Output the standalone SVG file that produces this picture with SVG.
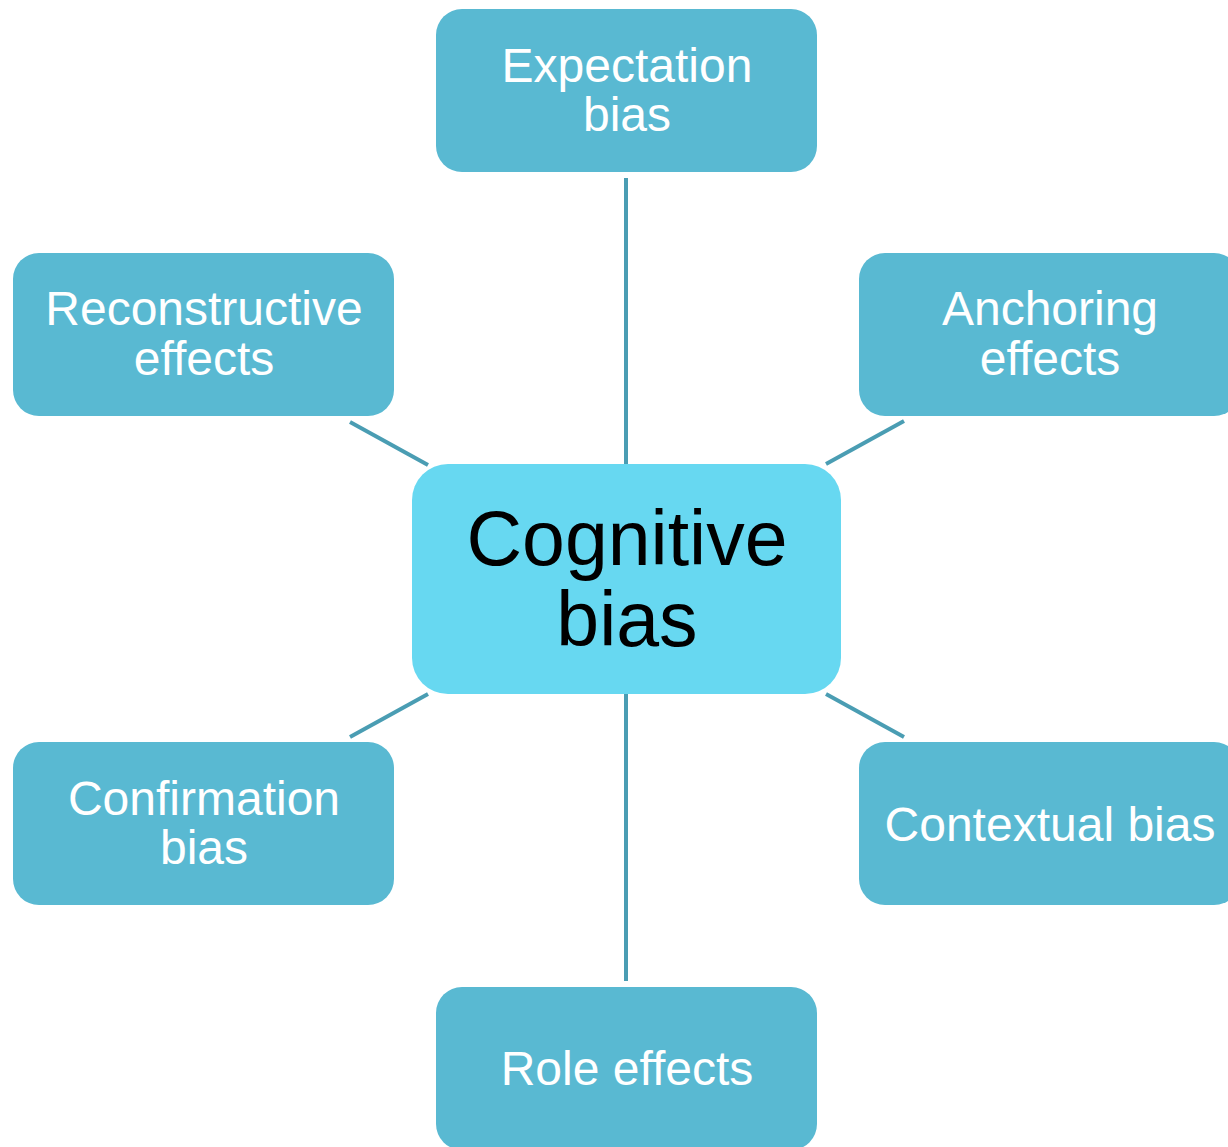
<svg xmlns="http://www.w3.org/2000/svg" width="1228" height="1147" viewBox="0 0 1228 1147">
<style>
.box{fill:#59b9d2}
.core{fill:#67d8f1}
.lbl{font-family:"Liberation Sans",Arial,sans-serif;font-size:48px;fill:#ffffff;text-anchor:middle}
.big{font-family:"Liberation Sans",Arial,sans-serif;font-size:77px;fill:#000000;text-anchor:middle}
.conn line{stroke:#4a9db3;stroke-width:4}
</style>
<rect width="1228" height="1147" fill="#ffffff"/>
<g id="connectors" class="conn">
<line x1="626" y1="178" x2="626" y2="465"/>
<line x1="626" y1="694" x2="626" y2="981"/>
<line x1="350" y1="422" x2="428" y2="465"/>
<line x1="826" y1="464" x2="904" y2="421"/>
<line x1="428" y1="694" x2="350" y2="737"/>
<line x1="826" y1="694" x2="904" y2="737"/>
</g>
<g id="expectation">
<rect class="box" x="436" y="9" width="381" height="163" rx="26"/>
<text class="lbl" x="627" y="82">Expectation</text>
<text class="lbl" x="627" y="131">bias</text>
</g>
<g id="reconstructive">
<rect class="box" x="13" y="253" width="381" height="163" rx="26"/>
<text class="lbl" x="204" y="325">Reconstructive</text>
<text class="lbl" x="204" y="375">effects</text>
</g>
<g id="anchoring">
<rect class="box" x="859" y="253" width="381" height="163" rx="26"/>
<text class="lbl" x="1050" y="325">Anchoring</text>
<text class="lbl" x="1050" y="375">effects</text>
</g>
<g id="cognitive">
<rect class="core" x="412" y="464" width="429" height="230" rx="36"/>
<text class="big" x="627" y="565">Cognitive</text>
<text class="big" x="627" y="646">bias</text>
</g>
<g id="confirmation">
<rect class="box" x="13" y="742" width="381" height="163" rx="26"/>
<text class="lbl" x="204" y="815">Confirmation</text>
<text class="lbl" x="204" y="864">bias</text>
</g>
<g id="contextual">
<rect class="box" x="859" y="742" width="381" height="163" rx="26"/>
<text class="lbl" x="1050" y="841">Contextual bias</text>
</g>
<g id="role">
<rect class="box" x="436" y="987" width="381" height="163" rx="26"/>
<text class="lbl" x="627" y="1085">Role effects</text>
</g>
</svg>
